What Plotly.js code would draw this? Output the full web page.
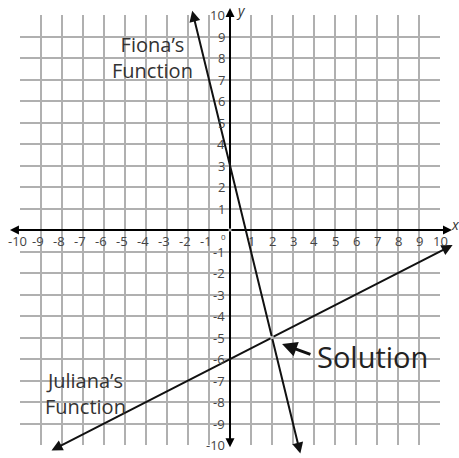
<!DOCTYPE html>
<html>
<head>
<meta charset="utf-8">
<script src="https://cdn.plot.ly/plotly-3.0.1.min.js"></script>
<style>html,body{margin:0;padding:0;background:#fff;}#chart{width:459px;height:458px;}</style>
</head>
<body>
<div id="chart"></div>
<script>
// Data
const xTickVals = [-10, -9, -8, -7, -6, -5, -4, -3, -2, -1, 1, 2, 3, 4, 5, 6, 7, 8, 9, 10];
const xTickText = ["-10", "-9", "-8", "-7", "-6", "-5", "-4", "-3", "-2", "-1", "1", "2", "3", "4", "5", "6", "7", "8", "9", "10"];
const yTickVals = [10, 9, 8, 7, 6, 5, 4, 3, 2, 1, -1, -2, -3, -4, -5, -6, -7, -8, -9, -10];
const yTickText = ["10", "9", "8", "7", "6", "5", "4", "3", "2", "1", "-1", "-2", "-3", "-4", "-5", "-6", "-7", "-8", "-9", "-10"];

// Fiona's function: arrow tip, solution point, arrow tip
const fionaX = [-1.8, 2, 3.35];
const fionaY = [10.2, -5, -10.4];
// Juliana's function: arrow tip, solution point, arrow tip
const julianaX = [-8.5, 2, 10.6];
const julianaY = [-10.25, -5, -0.7];
// Solution pointer
const pointerTip = [2.48, -5.3];
const pointerTail = [3.9, -5.81];
// Axis extents (arrow tips)
const xAxisX = [-10.48, 10.57];
const yAxisY = [-10.1, 10.33];

const FONT = "Open Sans, Lato, sans-serif";
const ann = [];

function arrow(x0, y0, x1, y1, w, size, color) {
  return {
    x: x1, y: y1, ax: x0, ay: y0, xref: 'x', yref: 'y', axref: 'x', ayref: 'y',
    text: '', showarrow: true, arrowhead: 2, arrowsize: size, arrowwidth: w,
    arrowcolor: color, standoff: 0
  };
}

// axes: from origin to each arrow tip
ann.push(arrow(0, 0, xAxisX[0], 0, 2, 0.9, '#000'));
ann.push(arrow(0, 0, xAxisX[1], 0, 2, 0.9, '#000'));
ann.push(arrow(0, 0, 0, yAxisY[0], 2, 0.9, '#000'));
ann.push(arrow(0, 0, 0, yAxisY[1], 2, 0.9, '#000'));
// functions: from the solution point to each arrow tip
ann.push(arrow(fionaX[1], fionaY[1], fionaX[0], fionaY[0], 2, 1.1, '#111'));
ann.push(arrow(fionaX[1], fionaY[1], fionaX[2], fionaY[2], 2, 1.1, '#111'));
ann.push(arrow(julianaX[1], julianaY[1], julianaX[0], julianaY[0], 2, 1.1, '#111'));
ann.push(arrow(julianaX[1], julianaY[1], julianaX[2], julianaY[2], 2, 1.1, '#111'));

// tick labels
const tickFont = {family: FONT, size: 13, color: '#444'};
xTickVals.forEach((v, i) => {
  const neg = v < 0;
  ann.push({x: v, y: 0, xref: 'x', yref: 'y', text: xTickText[i], showarrow: false,
    xanchor: neg ? 'right' : 'center', xshift: neg ? (v <= -10 ? 8 : 4) : 0,
    yanchor: 'middle', yshift: -11, font: tickFont, borderpad: 0});
});
yTickVals.forEach((v, i) => {
  ann.push({x: 0, y: v, xref: 'x', yref: 'y', text: yTickText[i], showarrow: false,
    xanchor: 'right', xshift: -4, yanchor: 'middle', font: tickFont, borderpad: 0});
});
ann.push({x: 0, y: 0, xref: 'x', yref: 'y', text: '0', showarrow: false,
  xanchor: 'right', xshift: -3, yanchor: 'middle', yshift: -6, font: {family: FONT, size: 8, color: '#444'}, borderpad: 0});

// axis names (anchored at the last grid line so they stay on screen)
ann.push({x: 10, y: 0, xref: 'x', yref: 'y', text: '<i>x</i>', showarrow: false,
  xanchor: 'left', xshift: 10, yanchor: 'middle', yshift: 6, font: {family: FONT, size: 14, color: '#333'}, borderpad: 0});
ann.push({x: 0, y: 10, xref: 'x', yref: 'y', text: '<i>y</i>', showarrow: false,
  xanchor: 'left', xshift: 5, yanchor: 'middle', yshift: 5, font: {family: FONT, size: 14, color: '#333'}, borderpad: 0});

// function labels
const labFont = {family: FONT, size: 20, color: '#333'};
ann.push({x: -3.67, y: 8.02, xref: 'x', yref: 'y', text: 'Fiona’s<br>Function', showarrow: false,
  xanchor: 'center', yanchor: 'middle', align: 'center', font: labFont, borderpad: 0});
ann.push({x: -6.9, y: -7.62, xref: 'x', yref: 'y', text: 'Juliana’s<br>Function', showarrow: false,
  xanchor: 'center', yanchor: 'middle', align: 'center', font: labFont, borderpad: 0});

// solution pointer and text
ann.push({x: pointerTip[0], y: pointerTip[1], ax: pointerTail[0], ay: pointerTail[1],
  xref: 'x', yref: 'y', axref: 'x', ayref: 'y', text: '', showarrow: true,
  arrowhead: 2, arrowsize: 1, arrowwidth: 3, arrowcolor: '#111', standoff: 0});
ann.push({x: 4.1, y: -5.9, xref: 'x', yref: 'y', text: 'Solution', showarrow: false,
  xanchor: 'left', yanchor: 'middle', font: {family: FONT, size: 29, color: '#222'}, borderpad: 0});

const traces = [{
  x: [fionaX[1]], y: [fionaY[1]], type: 'scatter', mode: 'markers',
  marker: {size: 1, color: 'rgba(0,0,0,0)'}, hoverinfo: 'skip', showlegend: false
}];

const layout = {
  width: 459, height: 458,
  margin: {l: 20, r: 19, t: 15, b: 13, pad: 0},
  paper_bgcolor: '#fff', plot_bgcolor: '#fff',
  showlegend: false,
  xaxis: {range: [-10, 10], dtick: 1, tick0: 0, showgrid: true, gridcolor: '#b0b0b0', gridwidth: 2,
    zeroline: false, showticklabels: false, ticks: '', showline: false, fixedrange: true},
  yaxis: {range: [-10, 10], dtick: 1, tick0: 0, showgrid: true, gridcolor: '#b0b0b0', gridwidth: 2,
    zeroline: false, showticklabels: false, ticks: '', showline: false, fixedrange: true},
  annotations: ann
};

Plotly.newPlot('chart', traces, layout, {displayModeBar: false, staticPlot: true});
</script>
</body>
</html>
